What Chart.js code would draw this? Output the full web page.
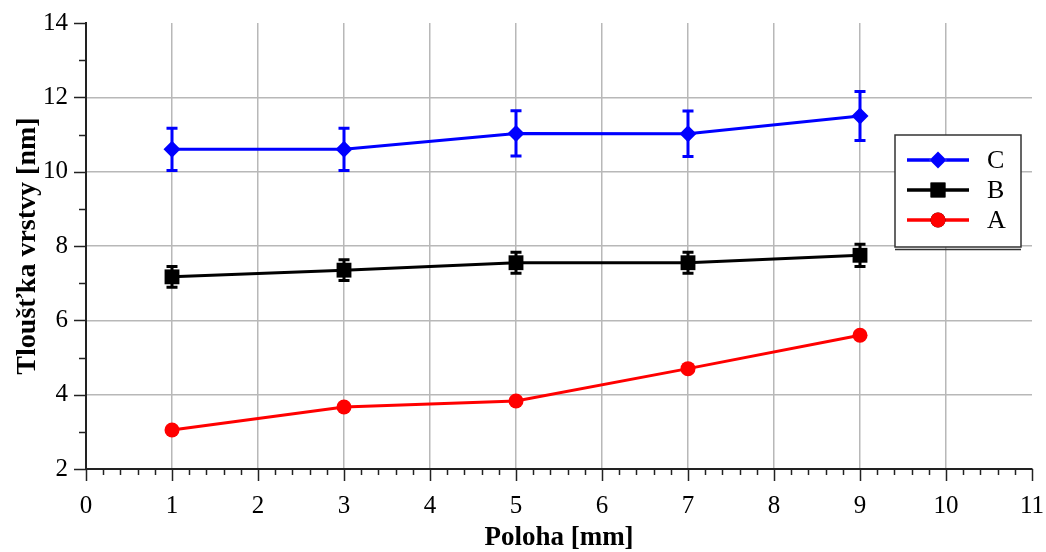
<!DOCTYPE html>
<html>
<head>
<meta charset="utf-8">
<script src="https://cdn.jsdelivr.net/npm/chart.js@4/dist/chart.umd.min.js"></script>
<style>
  html, body { margin: 0; padding: 0; background: #fff; }
  #wrap { width: 1046px; height: 552px; }
</style>
</head>
<body>
<div id="wrap"><canvas id="thicknessChart" width="1046" height="552"></canvas></div>
<script>
// positions along the sample [mm]
const positions = [1, 3, 5, 7, 9];

// layer thickness [nm] and its spread for each sample
const seriesC = [10.6, 10.6, 11.03, 11.02, 11.5];
const errorC = [0.57, 0.57, 0.61, 0.61, 0.66];
const seriesB = [7.17, 7.35, 7.55, 7.55, 7.75];
const errorB = [0.28, 0.28, 0.28, 0.28, 0.3];
const seriesA = [3.05, 3.67, 3.83, 4.7, 5.6];

const labels = ["C", "B", "A"];
const colors = ["#0000ff", "#000000", "#ff0000"];
const markers = ["rectRot", "rect", "circle"];

const toPoints = (ys) => ys.map((y, i) => ({ x: positions[i], y }));

const serif = "'Liberation Serif', 'Times New Roman', serif";
const gridGray = "#b8b8b8";
const axisColor = "#222";

// ✅ Error bars with small caps, drawn through the chart scales
const errorBars = {
  id: "errorBars",
  afterDatasetsDraw(chart) {
    const ctx = chart.ctx;
    const xs = chart.scales.x;
    const ys = chart.scales.y;
    chart.data.datasets.forEach((ds) => {
      if (!ds.errors) return;
      ctx.save();
      ctx.strokeStyle = ds.borderColor;
      ctx.lineWidth = 3;
      ds.data.forEach((p, i) => {
        const px = xs.getPixelForValue(p.x);
        const top = ys.getPixelForValue(p.y + ds.errors[i]);
        const bot = ys.getPixelForValue(p.y - ds.errors[i]);
        ctx.beginPath();
        ctx.moveTo(px, top);
        ctx.lineTo(px, bot);
        ctx.moveTo(px - 5.5, top);
        ctx.lineTo(px + 5.5, top);
        ctx.moveTo(px - 5.5, bot);
        ctx.lineTo(px + 5.5, bot);
        ctx.stroke();
      });
      ctx.restore();
    });
  },
};

// ✅ Outward tick marks: major + minor on both axes
const axisTicks = {
  id: "axisTicks",
  afterDraw(chart) {
    const ctx = chart.ctx;
    const xs = chart.scales.x;
    const ys = chart.scales.y;
    ctx.save();
    ctx.strokeStyle = axisColor;
    ctx.lineWidth = 1.5;
    ctx.beginPath();
    for (let v = ys.min; v <= ys.max; v += 1) {
      const py = Math.round(ys.getPixelForValue(v)) + 0.5;
      const len = v % 2 === 0 ? 12 : 7;
      ctx.moveTo(ys.right - len, py);
      ctx.lineTo(ys.right, py);
    }
    const steps = Math.round((xs.max - xs.min) / 0.2);
    for (let i = 0; i <= steps; i++) {
      const v = xs.min + i * 0.2;
      const px = Math.round(xs.getPixelForValue(v)) + 0.5;
      const len = i % 5 === 0 ? 12 : 6;
      ctx.moveTo(px, xs.top);
      ctx.lineTo(px, xs.top + len);
    }
    ctx.stroke();
    ctx.restore();
  },
};

// ✅ Boxed legend inside the plot area
const boxLegend = {
  id: "boxLegend",
  afterDraw(chart) {
    const ctx = chart.ctx;
    const area = chart.chartArea;
    const left = area.right - 137;
    const top = area.top + 112;
    const w = 126;
    const h = 112;
    ctx.save();
    ctx.fillStyle = "#fff";
    ctx.fillRect(left, top, w, h);
    ctx.strokeStyle = "#333";
    ctx.lineWidth = 1.5;
    ctx.strokeRect(left, top, w, h);
    ctx.beginPath();
    ctx.moveTo(left, top + h + 2.5);
    ctx.lineTo(left + w, top + h + 2.5);
    ctx.stroke();

    chart.data.datasets.forEach((ds, i) => {
      const cy = top + 25 + i * 30;
      ctx.strokeStyle = ds.borderColor;
      ctx.lineWidth = 3.5;
      ctx.beginPath();
      ctx.moveTo(left + 12, cy);
      ctx.lineTo(left + 74, cy);
      ctx.stroke();
      Chart.helpers.drawPoint(ctx, {
        pointStyle: ds.pointStyle,
        radius: ds.pointRadius,
        rotation: 0,
        borderWidth: 0,
      }, left + 43, cy);
      ctx.fillStyle = ds.borderColor;
      ctx.fill();
      ctx.fillStyle = "#000";
      ctx.font = "26px " + serif;
      ctx.textBaseline = "middle";
      ctx.textAlign = "left";
      ctx.fillText(ds.label, left + 92, cy + 1);
    });
    ctx.restore();
  },
};

const makeDataset = (i, values, errors, radius) => ({
  label: labels[i],
  data: toPoints(values),
  errors,
  borderColor: colors[i],
  backgroundColor: colors[i],
  borderWidth: 3,
  pointStyle: markers[i],
  pointRadius: radius,
  pointBorderWidth: 0,
  tension: 0,
});

// keep the plot box fixed, labels may hang over the edges
const noScalePadding = (scale) => {
  scale.paddingLeft = 0;
  scale.paddingRight = 0;
  scale.paddingTop = 0;
  scale.paddingBottom = 0;
};

const ctx = document.getElementById("thicknessChart").getContext("2d");

new Chart(ctx, {
  type: "line",
  data: {
    datasets: [
      makeDataset(0, seriesC, errorC, 8.5),
      makeDataset(1, seriesB, errorB, 10.5),
      makeDataset(2, seriesA, null, 7.5),
    ],
  },
  options: {
    responsive: false,
    animation: false,
    devicePixelRatio: 1,
    layout: { padding: { left: 0, top: 23, right: 14, bottom: 0 } },
    plugins: {
      legend: { display: false },
      tooltip: { enabled: false },
    },
    scales: {
      x: {
        type: "linear",
        min: 0,
        max: 11,
        ticks: {
          stepSize: 1,
          padding: 22,
          color: "#000",
          font: { family: serif, size: 25 },
          maxRotation: 0,
        },
        grid: {
          drawTicks: false,
          lineWidth: 1.5,
          color: (c) =>
            c.tick && c.tick.value > 0 && c.tick.value < 11 ? gridGray : "rgba(0,0,0,0)",
        },
        border: { color: axisColor, width: 2 },
        title: {
          display: true,
          text: "Poloha [mm]",
          color: "#000",
          font: { family: serif, size: 27, weight: "bold", lineHeight: 1 },
          padding: { top: 0, bottom: 0 },
        },
        afterFit: (scale) => {
          scale.height = 83;
          noScalePadding(scale);
        },
      },
      y: {
        type: "linear",
        min: 2,
        max: 14,
        ticks: {
          stepSize: 1,
          padding: 18,
          color: "#000",
          font: { family: serif, size: 25 },
          callback: (v) => (v % 2 === 0 ? v : ""),
        },
        grid: {
          drawTicks: false,
          lineWidth: 1.5,
          color: (c) =>
            c.tick && c.tick.value % 2 === 0 && c.tick.value > 2 && c.tick.value < 14
              ? gridGray
              : "rgba(0,0,0,0)",
        },
        border: { color: axisColor, width: 2 },
        title: {
          display: true,
          text: "Tloušťka vrstvy [nm]",
          color: "#000",
          font: { family: serif, size: 28, weight: "bold", lineHeight: 1 },
          padding: { top: 14, bottom: 0 },
        },
        afterFit: (scale) => {
          scale.width = 86;
          noScalePadding(scale);
        },
      },
    },
  },
  plugins: [errorBars, axisTicks, boxLegend],
});
</script>
</body>
</html>
